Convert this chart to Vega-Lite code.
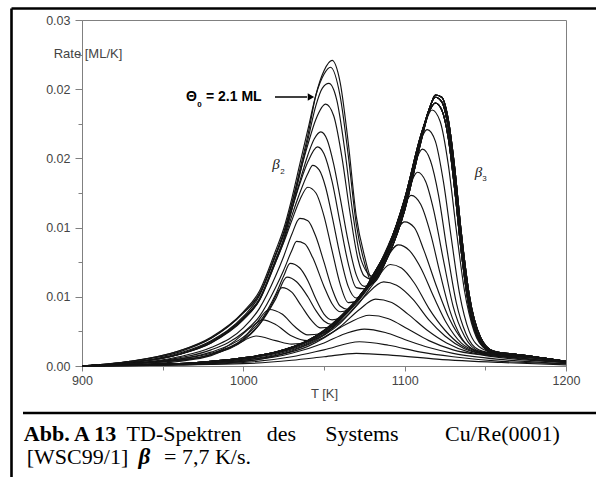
{
"$schema": "https://vega.github.io/schema/vega-lite/v6.json",
"width": 484, "height": 346,
"autosize": {"type": "none"},
"padding": {"left": 82, "top": 20, "right": 30, "bottom": 111},
"background": "white",
"config": {"font": "Liberation Sans", "view": {"stroke": "#808080", "strokeWidth": 1}},
"datasets": {
"curves": [
{"id":"z1","T":900,"rate":0},{"id":"z1","T":930,"rate":0.0003},{"id":"z1","T":960,"rate":0.0011},{"id":"z1","T":980,"rate":0.0022},{"id":"z1","T":1000,"rate":0.0043},{"id":"z1","T":1010,"rate":0.0061},{"id":"z1","T":1020,"rate":0.0096},{"id":"z1","T":1025,"rate":0.0114},{"id":"z1","T":1030,"rate":0.0140},{"id":"z1","T":1035,"rate":0.0170},{"id":"z1","T":1040,"rate":0.0200},{"id":"z1","T":1045,"rate":0.0235},{"id":"z1","T":1050,"rate":0.0256},{"id":"z1","T":1055,"rate":0.0265},{"id":"z1","T":1060,"rate":0.0246},{"id":"z1","T":1065,"rate":0.0194},{"id":"z1","T":1070,"rate":0.0130},{"id":"z1","T":1075,"rate":0.0096},
{"id":"z1","T":1080,"rate":0.0075},{"id":"z1","T":1090,"rate":0.0100},{"id":"z1","T":1100,"rate":0.0140},{"id":"z1","T":1110,"rate":0.0198},{"id":"z1","T":1115,"rate":0.0222},{"id":"z1","T":1119,"rate":0.0233},{"id":"z1","T":1123,"rate":0.0229},{"id":"z1","T":1127,"rate":0.0207},{"id":"z1","T":1131,"rate":0.0163},{"id":"z1","T":1135,"rate":0.0108},{"id":"z1","T":1140,"rate":0.0055},{"id":"z1","T":1147,"rate":0.0022},{"id":"z1","T":1155,"rate":0.0012},{"id":"z1","T":1170,"rate":0.0010},{"id":"z1","T":1200,"rate":0.0004},
{"id":"z2","T":900,"rate":0},{"id":"z2","T":930,"rate":0.0004},{"id":"z2","T":960,"rate":0.0013},{"id":"z2","T":980,"rate":0.0025},{"id":"z2","T":1000,"rate":0.0047},{"id":"z2","T":1010,"rate":0.0065},{"id":"z2","T":1020,"rate":0.0100},{"id":"z2","T":1025,"rate":0.0119},{"id":"z2","T":1030,"rate":0.0145},{"id":"z2","T":1035,"rate":0.0175},{"id":"z2","T":1040,"rate":0.0205},{"id":"z2","T":1045,"rate":0.0235},{"id":"z2","T":1050,"rate":0.0253},{"id":"z2","T":1054,"rate":0.0259},{"id":"z2","T":1060,"rate":0.0234},{"id":"z2","T":1065,"rate":0.0183},{"id":"z2","T":1070,"rate":0.0123},{"id":"z2","T":1075,"rate":0.0090},
{"id":"z2","T":1080,"rate":0.0072},{"id":"z2","T":1090,"rate":0.0096},{"id":"z2","T":1100,"rate":0.0135},{"id":"z2","T":1110,"rate":0.0194},{"id":"z2","T":1115,"rate":0.0221},{"id":"z2","T":1119,"rate":0.0235},{"id":"z2","T":1123,"rate":0.0233},{"id":"z2","T":1127,"rate":0.0214},{"id":"z2","T":1131,"rate":0.0172},{"id":"z2","T":1135,"rate":0.0117},{"id":"z2","T":1140,"rate":0.0062},{"id":"z2","T":1147,"rate":0.0025},{"id":"z2","T":1155,"rate":0.0013},{"id":"z2","T":1170,"rate":0.0010},{"id":"z2","T":1200,"rate":0.0004},
{"id":"z3","T":900,"rate":0},{"id":"z3","T":930,"rate":0.0003},{"id":"z3","T":960,"rate":0.0010},{"id":"z3","T":980,"rate":0.0020},{"id":"z3","T":1000,"rate":0.0040},{"id":"z3","T":1010,"rate":0.0057},{"id":"z3","T":1020,"rate":0.0092},{"id":"z3","T":1025,"rate":0.0110},{"id":"z3","T":1030,"rate":0.0136},{"id":"z3","T":1035,"rate":0.0166},{"id":"z3","T":1040,"rate":0.0196},{"id":"z3","T":1045,"rate":0.0226},{"id":"z3","T":1049,"rate":0.0241},{"id":"z3","T":1053,"rate":0.0245},{"id":"z3","T":1058,"rate":0.0230},{"id":"z3","T":1063,"rate":0.0186},{"id":"z3","T":1068,"rate":0.0131},{"id":"z3","T":1073,"rate":0.0092},
{"id":"z3","T":1080,"rate":0.0078},{"id":"z3","T":1090,"rate":0.0104},{"id":"z3","T":1100,"rate":0.0145},{"id":"z3","T":1110,"rate":0.0200},{"id":"z3","T":1115,"rate":0.0220},{"id":"z3","T":1119,"rate":0.0228},{"id":"z3","T":1123,"rate":0.0222},{"id":"z3","T":1127,"rate":0.0198},{"id":"z3","T":1131,"rate":0.0153},{"id":"z3","T":1135,"rate":0.0100},{"id":"z3","T":1140,"rate":0.0050},{"id":"z3","T":1147,"rate":0.0020},{"id":"z3","T":1155,"rate":0.0011},{"id":"z3","T":1170,"rate":0.0009},{"id":"z3","T":1200,"rate":0.0004},
{"id":"z4","T":900,"rate":0},{"id":"z4","T":930,"rate":0.0004},{"id":"z4","T":960,"rate":0.0013},{"id":"z4","T":980,"rate":0.0024},{"id":"z4","T":1000,"rate":0.0046},{"id":"z4","T":1010,"rate":0.0063},{"id":"z4","T":1020,"rate":0.0097},{"id":"z4","T":1025,"rate":0.0116},{"id":"z4","T":1030,"rate":0.0141},{"id":"z4","T":1035,"rate":0.0167},{"id":"z4","T":1040,"rate":0.0192},{"id":"z4","T":1045,"rate":0.0214},{"id":"z4","T":1051,"rate":0.0227},{"id":"z4","T":1056,"rate":0.0217},{"id":"z4","T":1061,"rate":0.0182},{"id":"z4","T":1066,"rate":0.0134},{"id":"z4","T":1071,"rate":0.0093},{"id":"z4","T":1075,"rate":0.0078},
{"id":"z4","T":1080,"rate":0.0075},{"id":"z4","T":1090,"rate":0.0100},{"id":"z4","T":1100,"rate":0.0140},{"id":"z4","T":1110,"rate":0.0198},{"id":"z4","T":1115,"rate":0.0222},{"id":"z4","T":1119,"rate":0.0233},{"id":"z4","T":1123,"rate":0.0229},{"id":"z4","T":1127,"rate":0.0207},{"id":"z4","T":1131,"rate":0.0163},{"id":"z4","T":1135,"rate":0.0108},{"id":"z4","T":1140,"rate":0.0055},{"id":"z4","T":1147,"rate":0.0022},{"id":"z4","T":1155,"rate":0.0012},{"id":"z4","T":1170,"rate":0.0010},{"id":"z4","T":1200,"rate":0.0004},
{"id":"z5","T":900,"rate":0},{"id":"z5","T":930,"rate":0.0003},{"id":"z5","T":960,"rate":0.0010},{"id":"z5","T":980,"rate":0.0021},{"id":"z5","T":1000,"rate":0.0041},{"id":"z5","T":1010,"rate":0.0058},{"id":"z5","T":1020,"rate":0.0092},{"id":"z5","T":1025,"rate":0.0110},{"id":"z5","T":1030,"rate":0.0135},{"id":"z5","T":1035,"rate":0.0160},{"id":"z5","T":1040,"rate":0.0183},{"id":"z5","T":1044,"rate":0.0197},{"id":"z5","T":1048,"rate":0.0203},{"id":"z5","T":1052,"rate":0.0196},{"id":"z5","T":1056,"rate":0.0175},{"id":"z5","T":1060,"rate":0.0146},{"id":"z5","T":1065,"rate":0.0108},{"id":"z5","T":1070,"rate":0.0079},{"id":"z5","T":1075,"rate":0.0069},
{"id":"z5","T":1080,"rate":0.0072},{"id":"z5","T":1090,"rate":0.0096},{"id":"z5","T":1100,"rate":0.0135},{"id":"z5","T":1110,"rate":0.0194},{"id":"z5","T":1115,"rate":0.0221},{"id":"z5","T":1119,"rate":0.0235},{"id":"z5","T":1123,"rate":0.0233},{"id":"z5","T":1127,"rate":0.0214},{"id":"z5","T":1131,"rate":0.0172},{"id":"z5","T":1135,"rate":0.0117},{"id":"z5","T":1140,"rate":0.0062},{"id":"z5","T":1147,"rate":0.0025},{"id":"z5","T":1155,"rate":0.0013},{"id":"z5","T":1170,"rate":0.0010},{"id":"z5","T":1200,"rate":0.0004},
{"id":"z6","T":900,"rate":0},{"id":"z6","T":930,"rate":0.0004},{"id":"z6","T":960,"rate":0.0012},{"id":"z6","T":980,"rate":0.0024},{"id":"z6","T":1000,"rate":0.0046},{"id":"z6","T":1010,"rate":0.0062},{"id":"z6","T":1020,"rate":0.0096},{"id":"z6","T":1025,"rate":0.0114},{"id":"z6","T":1030,"rate":0.0136},{"id":"z6","T":1035,"rate":0.0158},{"id":"z6","T":1040,"rate":0.0177},{"id":"z6","T":1046,"rate":0.0190},{"id":"z6","T":1050,"rate":0.0184},{"id":"z6","T":1055,"rate":0.0160},{"id":"z6","T":1060,"rate":0.0124},{"id":"z6","T":1065,"rate":0.0089},{"id":"z6","T":1070,"rate":0.0068},{"id":"z6","T":1075,"rate":0.0067},
{"id":"z6","T":1080,"rate":0.0078},{"id":"z6","T":1090,"rate":0.0104},{"id":"z6","T":1100,"rate":0.0145},{"id":"z6","T":1110,"rate":0.0200},{"id":"z6","T":1115,"rate":0.0220},{"id":"z6","T":1119,"rate":0.0228},{"id":"z6","T":1123,"rate":0.0222},{"id":"z6","T":1127,"rate":0.0198},{"id":"z6","T":1131,"rate":0.0153},{"id":"z6","T":1135,"rate":0.0100},{"id":"z6","T":1140,"rate":0.0050},{"id":"z6","T":1147,"rate":0.0020},{"id":"z6","T":1155,"rate":0.0011},{"id":"z6","T":1170,"rate":0.0009},{"id":"z6","T":1200,"rate":0.0004},
{"id":"z7","T":900,"rate":0},{"id":"z7","T":930,"rate":0.0003},{"id":"z7","T":960,"rate":0.0010},{"id":"z7","T":980,"rate":0.0020},{"id":"z7","T":1000,"rate":0.0041},{"id":"z7","T":1010,"rate":0.0057},{"id":"z7","T":1020,"rate":0.0090},{"id":"z7","T":1025,"rate":0.0108},{"id":"z7","T":1030,"rate":0.0130},{"id":"z7","T":1035,"rate":0.0150},{"id":"z7","T":1040,"rate":0.0167},{"id":"z7","T":1043,"rate":0.0174},{"id":"z7","T":1047,"rate":0.0170},{"id":"z7","T":1051,"rate":0.0155},{"id":"z7","T":1055,"rate":0.0130},{"id":"z7","T":1060,"rate":0.0096},{"id":"z7","T":1065,"rate":0.0069},{"id":"z7","T":1070,"rate":0.0059},{"id":"z7","T":1075,"rate":0.0065},
{"id":"z7","T":1080,"rate":0.0075},{"id":"z7","T":1090,"rate":0.0100},{"id":"z7","T":1100,"rate":0.0140},{"id":"z7","T":1110,"rate":0.0198},{"id":"z7","T":1115,"rate":0.0222},{"id":"z7","T":1119,"rate":0.0233},{"id":"z7","T":1123,"rate":0.0229},{"id":"z7","T":1127,"rate":0.0207},{"id":"z7","T":1131,"rate":0.0163},{"id":"z7","T":1135,"rate":0.0108},{"id":"z7","T":1140,"rate":0.0055},{"id":"z7","T":1147,"rate":0.0022},{"id":"z7","T":1155,"rate":0.0012},{"id":"z7","T":1170,"rate":0.0010},{"id":"z7","T":1200,"rate":0.0004},
{"id":"z8","T":900,"rate":0},{"id":"z8","T":930,"rate":0.0003},{"id":"z8","T":960,"rate":0.0010},{"id":"z8","T":980,"rate":0.0021},{"id":"z8","T":1000,"rate":0.0042},{"id":"z8","T":1010,"rate":0.0058},{"id":"z8","T":1020,"rate":0.0090},{"id":"z8","T":1025,"rate":0.0107},{"id":"z8","T":1030,"rate":0.0126},{"id":"z8","T":1035,"rate":0.0144},{"id":"z8","T":1040,"rate":0.0155},{"id":"z8","T":1045,"rate":0.0150},{"id":"z8","T":1050,"rate":0.0130},{"id":"z8","T":1055,"rate":0.0100},{"id":"z8","T":1060,"rate":0.0071},{"id":"z8","T":1065,"rate":0.0055},{"id":"z8","T":1070,"rate":0.0056},{"id":"z8","T":1075,"rate":0.0064},
{"id":"z8","T":1080,"rate":0.0072},{"id":"z8","T":1090,"rate":0.0096},{"id":"z8","T":1100,"rate":0.0135},{"id":"z8","T":1110,"rate":0.0194},{"id":"z8","T":1115,"rate":0.0221},{"id":"z8","T":1119,"rate":0.0235},{"id":"z8","T":1123,"rate":0.0233},{"id":"z8","T":1127,"rate":0.0214},{"id":"z8","T":1131,"rate":0.0172},{"id":"z8","T":1135,"rate":0.0117},{"id":"z8","T":1140,"rate":0.0062},{"id":"z8","T":1147,"rate":0.0025},{"id":"z8","T":1155,"rate":0.0013},{"id":"z8","T":1170,"rate":0.0010},{"id":"z8","T":1200,"rate":0.0004},
{"id":"h1","T":900,"rate":0},{"id":"h1","T":930,"rate":0.0002},{"id":"h1","T":960,"rate":0.0008},{"id":"h1","T":980,"rate":0.0016},{"id":"h1","T":1000,"rate":0.0033},{"id":"h1","T":1010,"rate":0.0050},{"id":"h1","T":1020,"rate":0.0078},{"id":"h1","T":1025,"rate":0.0095},{"id":"h1","T":1030,"rate":0.0114},{"id":"h1","T":1035,"rate":0.0128},{"id":"h1","T":1040,"rate":0.0126},{"id":"h1","T":1045,"rate":0.0112},{"id":"h1","T":1050,"rate":0.0090},{"id":"h1","T":1055,"rate":0.0067},{"id":"h1","T":1060,"rate":0.0052},{"id":"h1","T":1065,"rate":0.0049},{"id":"h1","T":1070,"rate":0.0056},{"id":"h1","T":1075,"rate":0.0066},
{"id":"h1","T":1080,"rate":0.0078},{"id":"h1","T":1090,"rate":0.0104},{"id":"h1","T":1100,"rate":0.0145},{"id":"h1","T":1110,"rate":0.0200},{"id":"h1","T":1115,"rate":0.0220},{"id":"h1","T":1119,"rate":0.0228},{"id":"h1","T":1123,"rate":0.0222},{"id":"h1","T":1127,"rate":0.0198},{"id":"h1","T":1131,"rate":0.0153},{"id":"h1","T":1135,"rate":0.0100},{"id":"h1","T":1140,"rate":0.0050},{"id":"h1","T":1147,"rate":0.0020},{"id":"h1","T":1155,"rate":0.0011},{"id":"h1","T":1170,"rate":0.0009},{"id":"h1","T":1200,"rate":0.0004},
{"id":"h2","T":900,"rate":0},{"id":"h2","T":930,"rate":0.0002},{"id":"h2","T":960,"rate":0.0007},{"id":"h2","T":980,"rate":0.0014},{"id":"h2","T":1000,"rate":0.0029},{"id":"h2","T":1010,"rate":0.0043},{"id":"h2","T":1020,"rate":0.0068},{"id":"h2","T":1025,"rate":0.0083},{"id":"h2","T":1030,"rate":0.0100},{"id":"h2","T":1033,"rate":0.0108},{"id":"h2","T":1038,"rate":0.0106},{"id":"h2","T":1043,"rate":0.0094},{"id":"h2","T":1050,"rate":0.0069},{"id":"h2","T":1055,"rate":0.0054},{"id":"h2","T":1060,"rate":0.0047},{"id":"h2","T":1065,"rate":0.0049},{"id":"h2","T":1070,"rate":0.0057},{"id":"h2","T":1075,"rate":0.0066},
{"id":"h2","T":1080,"rate":0.0075},{"id":"h2","T":1090,"rate":0.0100},{"id":"h2","T":1100,"rate":0.0140},{"id":"h2","T":1110,"rate":0.0198},{"id":"h2","T":1115,"rate":0.0222},{"id":"h2","T":1119,"rate":0.0233},{"id":"h2","T":1123,"rate":0.0229},{"id":"h2","T":1127,"rate":0.0207},{"id":"h2","T":1131,"rate":0.0163},{"id":"h2","T":1135,"rate":0.0108},{"id":"h2","T":1140,"rate":0.0055},{"id":"h2","T":1147,"rate":0.0022},{"id":"h2","T":1155,"rate":0.0012},{"id":"h2","T":1170,"rate":0.0010},{"id":"h2","T":1200,"rate":0.0004},
{"id":"h3","T":900,"rate":0},{"id":"h3","T":930,"rate":0.0002},{"id":"h3","T":960,"rate":0.0006},{"id":"h3","T":980,"rate":0.0012},{"id":"h3","T":1000,"rate":0.0025},{"id":"h3","T":1010,"rate":0.0038},{"id":"h3","T":1020,"rate":0.0062},{"id":"h3","T":1025,"rate":0.0078},{"id":"h3","T":1029,"rate":0.0089},{"id":"h3","T":1035,"rate":0.0085},{"id":"h3","T":1040,"rate":0.0074},{"id":"h3","T":1045,"rate":0.0058},{"id":"h3","T":1050,"rate":0.0045},{"id":"h3","T":1055,"rate":0.0040},{"id":"h3","T":1060,"rate":0.0042},{"id":"h3","T":1065,"rate":0.0049},{"id":"h3","T":1070,"rate":0.0057},{"id":"h3","T":1075,"rate":0.0066},
{"id":"h3","T":1080,"rate":0.0072},{"id":"h3","T":1090,"rate":0.0096},{"id":"h3","T":1100,"rate":0.0135},{"id":"h3","T":1110,"rate":0.0194},{"id":"h3","T":1115,"rate":0.0221},{"id":"h3","T":1119,"rate":0.0235},{"id":"h3","T":1123,"rate":0.0233},{"id":"h3","T":1127,"rate":0.0214},{"id":"h3","T":1131,"rate":0.0172},{"id":"h3","T":1135,"rate":0.0117},{"id":"h3","T":1140,"rate":0.0062},{"id":"h3","T":1147,"rate":0.0025},{"id":"h3","T":1155,"rate":0.0013},{"id":"h3","T":1170,"rate":0.0010},{"id":"h3","T":1200,"rate":0.0004},
{"id":"h4","T":900,"rate":0},{"id":"h4","T":930,"rate":0.0002},{"id":"h4","T":960,"rate":0.0006},{"id":"h4","T":980,"rate":0.0011},{"id":"h4","T":1000,"rate":0.0023},{"id":"h4","T":1010,"rate":0.0036},{"id":"h4","T":1020,"rate":0.0058},{"id":"h4","T":1027,"rate":0.0077},{"id":"h4","T":1033,"rate":0.0073},{"id":"h4","T":1040,"rate":0.0060},{"id":"h4","T":1045,"rate":0.0048},{"id":"h4","T":1050,"rate":0.0039},{"id":"h4","T":1055,"rate":0.0036},{"id":"h4","T":1060,"rate":0.0041},{"id":"h4","T":1065,"rate":0.0048},{"id":"h4","T":1070,"rate":0.0057},{"id":"h4","T":1075,"rate":0.0066},
{"id":"h4","T":1080,"rate":0.0078},{"id":"h4","T":1090,"rate":0.0104},{"id":"h4","T":1100,"rate":0.0145},{"id":"h4","T":1110,"rate":0.0200},{"id":"h4","T":1115,"rate":0.0220},{"id":"h4","T":1119,"rate":0.0228},{"id":"h4","T":1123,"rate":0.0222},{"id":"h4","T":1127,"rate":0.0198},{"id":"h4","T":1131,"rate":0.0153},{"id":"h4","T":1135,"rate":0.0100},{"id":"h4","T":1140,"rate":0.0050},{"id":"h4","T":1147,"rate":0.0020},{"id":"h4","T":1155,"rate":0.0011},{"id":"h4","T":1170,"rate":0.0009},{"id":"h4","T":1200,"rate":0.0004},
{"id":"h5","T":900,"rate":0},{"id":"h5","T":930,"rate":0.0002},{"id":"h5","T":960,"rate":0.0005},{"id":"h5","T":980,"rate":0.0010},{"id":"h5","T":1000,"rate":0.0022},{"id":"h5","T":1010,"rate":0.0036},{"id":"h5","T":1017,"rate":0.0052},{"id":"h5","T":1024,"rate":0.0068},{"id":"h5","T":1030,"rate":0.0064},{"id":"h5","T":1036,"rate":0.0052},{"id":"h5","T":1042,"rate":0.0040},{"id":"h5","T":1048,"rate":0.0033},{"id":"h5","T":1055,"rate":0.0034},{"id":"h5","T":1060,"rate":0.0040},{"id":"h5","T":1065,"rate":0.0048},{"id":"h5","T":1070,"rate":0.0057},{"id":"h5","T":1075,"rate":0.0066},
{"id":"h5","T":1080,"rate":0.0075},{"id":"h5","T":1090,"rate":0.0100},{"id":"h5","T":1100,"rate":0.0140},{"id":"h5","T":1110,"rate":0.0198},{"id":"h5","T":1115,"rate":0.0222},{"id":"h5","T":1119,"rate":0.0233},{"id":"h5","T":1123,"rate":0.0229},{"id":"h5","T":1127,"rate":0.0207},{"id":"h5","T":1131,"rate":0.0163},{"id":"h5","T":1135,"rate":0.0108},{"id":"h5","T":1140,"rate":0.0055},{"id":"h5","T":1147,"rate":0.0022},{"id":"h5","T":1155,"rate":0.0012},{"id":"h5","T":1170,"rate":0.0010},{"id":"h5","T":1200,"rate":0.0004},
{"id":"h6","T":900,"rate":0},{"id":"h6","T":930,"rate":0.0002},{"id":"h6","T":960,"rate":0.0005},{"id":"h6","T":980,"rate":0.0010},{"id":"h6","T":1000,"rate":0.0024},{"id":"h6","T":1008,"rate":0.0037},{"id":"h6","T":1016,"rate":0.0049},{"id":"h6","T":1024,"rate":0.0045},{"id":"h6","T":1032,"rate":0.0034},{"id":"h6","T":1040,"rate":0.0027},{"id":"h6","T":1048,"rate":0.0028},{"id":"h6","T":1055,"rate":0.0033},{"id":"h6","T":1062,"rate":0.0043},{"id":"h6","T":1070,"rate":0.0057},{"id":"h6","T":1075,"rate":0.0066},
{"id":"h6","T":1080,"rate":0.0072},{"id":"h6","T":1090,"rate":0.0096},{"id":"h6","T":1100,"rate":0.0135},{"id":"h6","T":1110,"rate":0.0194},{"id":"h6","T":1115,"rate":0.0221},{"id":"h6","T":1119,"rate":0.0235},{"id":"h6","T":1123,"rate":0.0233},{"id":"h6","T":1127,"rate":0.0214},{"id":"h6","T":1131,"rate":0.0172},{"id":"h6","T":1135,"rate":0.0117},{"id":"h6","T":1140,"rate":0.0062},{"id":"h6","T":1147,"rate":0.0025},{"id":"h6","T":1155,"rate":0.0013},{"id":"h6","T":1170,"rate":0.0010},{"id":"h6","T":1200,"rate":0.0004},
{"id":"h7","T":900,"rate":0},{"id":"h7","T":930,"rate":0.0002},{"id":"h7","T":960,"rate":0.0005},{"id":"h7","T":980,"rate":0.0010},{"id":"h7","T":995,"rate":0.0022},{"id":"h7","T":1005,"rate":0.0034},{"id":"h7","T":1012,"rate":0.0040},{"id":"h7","T":1020,"rate":0.0036},{"id":"h7","T":1030,"rate":0.0026},{"id":"h7","T":1040,"rate":0.0022},{"id":"h7","T":1050,"rate":0.0027},{"id":"h7","T":1060,"rate":0.0040},{"id":"h7","T":1070,"rate":0.0056},{"id":"h7","T":1075,"rate":0.0065},
{"id":"h7","T":1080,"rate":0.0078},{"id":"h7","T":1090,"rate":0.0104},{"id":"h7","T":1100,"rate":0.0145},{"id":"h7","T":1110,"rate":0.0200},{"id":"h7","T":1115,"rate":0.0220},{"id":"h7","T":1119,"rate":0.0228},{"id":"h7","T":1123,"rate":0.0222},{"id":"h7","T":1127,"rate":0.0198},{"id":"h7","T":1131,"rate":0.0153},{"id":"h7","T":1135,"rate":0.0100},{"id":"h7","T":1140,"rate":0.0050},{"id":"h7","T":1147,"rate":0.0020},{"id":"h7","T":1155,"rate":0.0011},{"id":"h7","T":1170,"rate":0.0009},{"id":"h7","T":1200,"rate":0.0004},
{"id":"h8","T":900,"rate":0},{"id":"h8","T":930,"rate":0.0001},{"id":"h8","T":960,"rate":0.0004},{"id":"h8","T":980,"rate":0.0009},{"id":"h8","T":995,"rate":0.0018},{"id":"h8","T":1008,"rate":0.0026},{"id":"h8","T":1020,"rate":0.0022},{"id":"h8","T":1030,"rate":0.0019},{"id":"h8","T":1040,"rate":0.0021},{"id":"h8","T":1050,"rate":0.0029},{"id":"h8","T":1060,"rate":0.0041},{"id":"h8","T":1070,"rate":0.0057},{"id":"h8","T":1075,"rate":0.0066},
{"id":"h8","T":1080,"rate":0.0075},{"id":"h8","T":1090,"rate":0.0100},{"id":"h8","T":1100,"rate":0.0140},{"id":"h8","T":1110,"rate":0.0198},{"id":"h8","T":1115,"rate":0.0222},{"id":"h8","T":1119,"rate":0.0233},{"id":"h8","T":1123,"rate":0.0229},{"id":"h8","T":1127,"rate":0.0207},{"id":"h8","T":1131,"rate":0.0163},{"id":"h8","T":1135,"rate":0.0108},{"id":"h8","T":1140,"rate":0.0055},{"id":"h8","T":1147,"rate":0.0022},{"id":"h8","T":1155,"rate":0.0012},{"id":"h8","T":1170,"rate":0.0010},{"id":"h8","T":1200,"rate":0.0004},
{"id":"c1","T":900,"rate":0},{"id":"c1","T":930,"rate":0.0001},{"id":"c1","T":960,"rate":0.0002},{"id":"c1","T":980,"rate":0.0004},{"id":"c1","T":1000,"rate":0.0007},{"id":"c1","T":1020,"rate":0.0012},{"id":"c1","T":1040,"rate":0.0022},{"id":"c1","T":1060,"rate":0.0042},{"id":"c1","T":1080,"rate":0.0074},{"id":"c1","T":1090,"rate":0.0099},{"id":"c1","T":1100,"rate":0.0139},{"id":"c1","T":1110,"rate":0.0197},{"id":"c1","T":1117,"rate":0.0222},{"id":"c1","T":1122,"rate":0.0212},{"id":"c1","T":1127,"rate":0.0175},{"id":"c1","T":1132,"rate":0.0118},{"id":"c1","T":1137,"rate":0.0066},{"id":"c1","T":1143,"rate":0.0030},{"id":"c1","T":1150,"rate":0.0015},{"id":"c1","T":1160,"rate":0.0011},{"id":"c1","T":1180,"rate":0.0008},{"id":"c1","T":1200,"rate":0.0004},
{"id":"c2","T":900,"rate":0},{"id":"c2","T":930,"rate":0.0001},{"id":"c2","T":960,"rate":0.0002},{"id":"c2","T":980,"rate":0.0004},{"id":"c2","T":1000,"rate":0.0007},{"id":"c2","T":1020,"rate":0.0012},{"id":"c2","T":1040,"rate":0.0022},{"id":"c2","T":1060,"rate":0.0042},{"id":"c2","T":1080,"rate":0.0075},{"id":"c2","T":1090,"rate":0.0101},{"id":"c2","T":1100,"rate":0.0142},{"id":"c2","T":1108,"rate":0.0188},{"id":"c2","T":1114,"rate":0.0205},{"id":"c2","T":1119,"rate":0.0195},{"id":"c2","T":1124,"rate":0.0160},{"id":"c2","T":1129,"rate":0.0110},{"id":"c2","T":1134,"rate":0.0063},{"id":"c2","T":1140,"rate":0.0030},{"id":"c2","T":1148,"rate":0.0015},{"id":"c2","T":1160,"rate":0.0010},{"id":"c2","T":1180,"rate":0.0008},{"id":"c2","T":1200,"rate":0.0004},
{"id":"c3","T":900,"rate":0},{"id":"c3","T":930,"rate":0.0001},{"id":"c3","T":960,"rate":0.0002},{"id":"c3","T":980,"rate":0.0004},{"id":"c3","T":1000,"rate":0.0007},{"id":"c3","T":1020,"rate":0.0012},{"id":"c3","T":1040,"rate":0.0022},{"id":"c3","T":1060,"rate":0.0043},{"id":"c3","T":1080,"rate":0.0076},{"id":"c3","T":1090,"rate":0.0102},{"id":"c3","T":1100,"rate":0.0143},{"id":"c3","T":1106,"rate":0.0174},{"id":"c3","T":1111,"rate":0.0188},{"id":"c3","T":1116,"rate":0.0178},{"id":"c3","T":1121,"rate":0.0148},{"id":"c3","T":1126,"rate":0.0103},{"id":"c3","T":1132,"rate":0.0055},{"id":"c3","T":1138,"rate":0.0028},{"id":"c3","T":1146,"rate":0.0014},{"id":"c3","T":1160,"rate":0.0010},{"id":"c3","T":1180,"rate":0.0008},{"id":"c3","T":1200,"rate":0.0004},
{"id":"c4","T":900,"rate":0},{"id":"c4","T":930,"rate":0.0001},{"id":"c4","T":960,"rate":0.0002},{"id":"c4","T":980,"rate":0.0004},{"id":"c4","T":1000,"rate":0.0007},{"id":"c4","T":1020,"rate":0.0012},{"id":"c4","T":1040,"rate":0.0022},{"id":"c4","T":1060,"rate":0.0042},{"id":"c4","T":1080,"rate":0.0076},{"id":"c4","T":1090,"rate":0.0103},{"id":"c4","T":1100,"rate":0.0142},{"id":"c4","T":1108,"rate":0.0168},{"id":"c4","T":1113,"rate":0.0160},{"id":"c4","T":1118,"rate":0.0135},{"id":"c4","T":1124,"rate":0.0092},{"id":"c4","T":1130,"rate":0.0052},{"id":"c4","T":1137,"rate":0.0026},{"id":"c4","T":1146,"rate":0.0013},{"id":"c4","T":1160,"rate":0.0010},{"id":"c4","T":1180,"rate":0.0007},{"id":"c4","T":1200,"rate":0.0003},
{"id":"c5","T":900,"rate":0},{"id":"c5","T":930,"rate":0.0001},{"id":"c5","T":960,"rate":0.0002},{"id":"c5","T":980,"rate":0.0004},{"id":"c5","T":1000,"rate":0.0007},{"id":"c5","T":1020,"rate":0.0012},{"id":"c5","T":1040,"rate":0.0022},{"id":"c5","T":1060,"rate":0.0042},{"id":"c5","T":1080,"rate":0.0076},{"id":"c5","T":1095,"rate":0.0121},{"id":"c5","T":1104,"rate":0.0148},{"id":"c5","T":1110,"rate":0.0140},{"id":"c5","T":1116,"rate":0.0115},{"id":"c5","T":1122,"rate":0.0080},{"id":"c5","T":1128,"rate":0.0048},{"id":"c5","T":1135,"rate":0.0025},{"id":"c5","T":1145,"rate":0.0013},{"id":"c5","T":1160,"rate":0.0010},{"id":"c5","T":1180,"rate":0.0007},{"id":"c5","T":1200,"rate":0.0003},
{"id":"c6","T":900,"rate":0},{"id":"c6","T":930,"rate":0.0001},{"id":"c6","T":960,"rate":0.0002},{"id":"c6","T":980,"rate":0.0004},{"id":"c6","T":1000,"rate":0.0007},{"id":"c6","T":1020,"rate":0.0012},{"id":"c6","T":1040,"rate":0.0022},{"id":"c6","T":1060,"rate":0.0042},{"id":"c6","T":1080,"rate":0.0075},{"id":"c6","T":1090,"rate":0.0102},{"id":"c6","T":1100,"rate":0.0125},{"id":"c6","T":1106,"rate":0.0120},{"id":"c6","T":1112,"rate":0.0100},{"id":"c6","T":1120,"rate":0.0068},{"id":"c6","T":1128,"rate":0.0040},{"id":"c6","T":1136,"rate":0.0022},{"id":"c6","T":1146,"rate":0.0012},{"id":"c6","T":1160,"rate":0.0009},{"id":"c6","T":1180,"rate":0.0007},{"id":"c6","T":1200,"rate":0.0003},
{"id":"c7","T":900,"rate":0},{"id":"c7","T":930,"rate":0.0001},{"id":"c7","T":960,"rate":0.0002},{"id":"c7","T":980,"rate":0.0004},{"id":"c7","T":1000,"rate":0.0006},{"id":"c7","T":1020,"rate":0.0011},{"id":"c7","T":1040,"rate":0.0021},{"id":"c7","T":1060,"rate":0.0040},{"id":"c7","T":1075,"rate":0.0063},{"id":"c7","T":1085,"rate":0.0084},{"id":"c7","T":1096,"rate":0.0105},{"id":"c7","T":1103,"rate":0.0100},{"id":"c7","T":1110,"rate":0.0085},{"id":"c7","T":1118,"rate":0.0060},{"id":"c7","T":1126,"rate":0.0037},{"id":"c7","T":1135,"rate":0.0020},{"id":"c7","T":1146,"rate":0.0012},{"id":"c7","T":1160,"rate":0.0009},{"id":"c7","T":1180,"rate":0.0007},{"id":"c7","T":1200,"rate":0.0003},
{"id":"c8","T":900,"rate":0},{"id":"c8","T":930,"rate":0.0001},{"id":"c8","T":960,"rate":0.0002},{"id":"c8","T":980,"rate":0.0003},{"id":"c8","T":1000,"rate":0.0006},{"id":"c8","T":1020,"rate":0.0011},{"id":"c8","T":1040,"rate":0.0020},{"id":"c8","T":1060,"rate":0.0038},{"id":"c8","T":1072,"rate":0.0055},{"id":"c8","T":1081,"rate":0.0072},{"id":"c8","T":1091,"rate":0.0088},{"id":"c8","T":1098,"rate":0.0085},{"id":"c8","T":1106,"rate":0.0072},{"id":"c8","T":1115,"rate":0.0050},{"id":"c8","T":1125,"rate":0.0031},{"id":"c8","T":1135,"rate":0.0018},{"id":"c8","T":1147,"rate":0.0011},{"id":"c8","T":1165,"rate":0.0008},{"id":"c8","T":1200,"rate":0.0003},
{"id":"c9","T":900,"rate":0},{"id":"c9","T":930,"rate":0.0001},{"id":"c9","T":960,"rate":0.0002},{"id":"c9","T":980,"rate":0.0003},{"id":"c9","T":1000,"rate":0.0005},{"id":"c9","T":1020,"rate":0.0010},{"id":"c9","T":1040,"rate":0.0019},{"id":"c9","T":1060,"rate":0.0037},{"id":"c9","T":1075,"rate":0.0060},{"id":"c9","T":1087,"rate":0.0073},{"id":"c9","T":1095,"rate":0.0070},{"id":"c9","T":1105,"rate":0.0058},{"id":"c9","T":1115,"rate":0.0040},{"id":"c9","T":1125,"rate":0.0026},{"id":"c9","T":1137,"rate":0.0015},{"id":"c9","T":1150,"rate":0.0010},{"id":"c9","T":1170,"rate":0.0007},{"id":"c9","T":1200,"rate":0.0003},
{"id":"c10","T":900,"rate":0},{"id":"c10","T":940,"rate":0.0001},{"id":"c10","T":970,"rate":0.0002},{"id":"c10","T":1000,"rate":0.0005},{"id":"c10","T":1020,"rate":0.0009},{"id":"c10","T":1040,"rate":0.0017},{"id":"c10","T":1060,"rate":0.0034},{"id":"c10","T":1072,"rate":0.0049},{"id":"c10","T":1082,"rate":0.0058},{"id":"c10","T":1092,"rate":0.0055},{"id":"c10","T":1102,"rate":0.0045},{"id":"c10","T":1114,"rate":0.0031},{"id":"c10","T":1126,"rate":0.0020},{"id":"c10","T":1140,"rate":0.0012},{"id":"c10","T":1160,"rate":0.0008},{"id":"c10","T":1200,"rate":0.0003},
{"id":"c11","T":900,"rate":0},{"id":"c11","T":950,"rate":0.0001},{"id":"c11","T":980,"rate":0.0003},{"id":"c11","T":1000,"rate":0.0004},{"id":"c11","T":1030,"rate":0.0013},{"id":"c11","T":1050,"rate":0.0025},{"id":"c11","T":1065,"rate":0.0037},{"id":"c11","T":1078,"rate":0.0044},{"id":"c11","T":1090,"rate":0.0041},{"id":"c11","T":1102,"rate":0.0032},{"id":"c11","T":1115,"rate":0.0022},{"id":"c11","T":1130,"rate":0.0014},{"id":"c11","T":1150,"rate":0.0009},{"id":"c11","T":1200,"rate":0.0003},
{"id":"c12","T":900,"rate":0},{"id":"c12","T":950,"rate":0.0001},{"id":"c12","T":980,"rate":0.0002},{"id":"c12","T":1000,"rate":0.0004},{"id":"c12","T":1030,"rate":0.0011},{"id":"c12","T":1050,"rate":0.0020},{"id":"c12","T":1063,"rate":0.0028},{"id":"c12","T":1075,"rate":0.0032},{"id":"c12","T":1088,"rate":0.0029},{"id":"c12","T":1100,"rate":0.0023},{"id":"c12","T":1115,"rate":0.0016},{"id":"c12","T":1130,"rate":0.0011},{"id":"c12","T":1150,"rate":0.0007},{"id":"c12","T":1200,"rate":0.0002},
{"id":"c13","T":900,"rate":0},{"id":"c13","T":960,"rate":0.0001},{"id":"c13","T":1000,"rate":0.0003},{"id":"c13","T":1030,"rate":0.0008},{"id":"c13","T":1050,"rate":0.0014},{"id":"c13","T":1072,"rate":0.0021},{"id":"c13","T":1090,"rate":0.0018},{"id":"c13","T":1110,"rate":0.0012},{"id":"c13","T":1130,"rate":0.0008},{"id":"c13","T":1160,"rate":0.0004},{"id":"c13","T":1200,"rate":0.0002},
{"id":"c14","T":900,"rate":0},{"id":"c14","T":960,"rate":0.0001},{"id":"c14","T":1000,"rate":0.0002},{"id":"c14","T":1030,"rate":0.0005},{"id":"c14","T":1050,"rate":0.0008},{"id":"c14","T":1070,"rate":0.0011},{"id":"c14","T":1095,"rate":0.0009},{"id":"c14","T":1120,"rate":0.0006},{"id":"c14","T":1160,"rate":0.0003},{"id":"c14","T":1200,"rate":0.0001}
]
},
"encoding": {
  "x": {"field": "T", "type": "quantitative",
    "scale": {"domain": [900, 1200], "nice": false, "zero": false},
    "axis": {"title": "T [K]", "values": [900, 950, 1000, 1050, 1100, 1150, 1200], "format": "d",
      "labelExpr": "datum.value % 100 == 0 ? datum.label : ''",
      "grid": false, "domainColor": "#808080", "tickColor": "#808080",
      "tickSize": {"condition": {"test": "datum.value % 100 == 0", "value": 5}, "value": 4},
      "labelFont": "Liberation Sans", "labelFontSize": 12.5, "labelColor": "#444444", "labelPadding": 3,
      "labelFlush": false, "labelOverlap": false,
      "titleFont": "Liberation Sans", "titleFontSize": 13, "titleFontWeight": "normal", "titleColor": "#444444", "titlePadding": 1}},
  "y": {"field": "rate", "type": "quantitative",
    "scale": {"domain": [0, 0.03], "nice": false, "zero": false},
    "axis": {"title": "Rate [ML/K]", "values": [0, 0.003, 0.006, 0.009, 0.012, 0.015, 0.018, 0.021, 0.024, 0.027, 0.03],
      "labelExpr": "round(datum.value * 1000 / 3) % 2 == 0 ? format(datum.value, '.2f') : ''",
      "grid": false, "domainColor": "#808080", "tickColor": "#808080",
      "tickSize": {"condition": {"test": "round(datum.value * 1000 / 3) % 2 == 0", "value": 7}, "value": 4},
      "labelFont": "Liberation Sans", "labelFontSize": 12.5, "labelColor": "#444444", "labelPadding": 5,
      "labelFlush": false, "labelOverlap": false,
      "titleFont": "Liberation Sans", "titleFontSize": 13, "titleFontWeight": "normal", "titleColor": "#444444",
      "titleAngle": 0, "titleX": 5.5, "titleY": 33, "titleAlign": "center", "titleBaseline": "middle"}}
},
"layer": [
  {"data": {"name": "curves"},
   "mark": {"type": "line", "interpolate": "monotone", "color": "#141414", "strokeWidth": 1.15},
   "encoding": {"detail": {"field": "id"}}},
  {"data": {"values": [
      {"T": 856.3, "T2": 1222, "rate": 0.030997, "rate2": 0.030997},
      {"T": 856.3, "T2": 856.3, "rate": 0.030997, "rate2": -0.0106},
      {"T": 863.43, "T2": 1222, "rate": -0.004075, "rate2": -0.004075}]},
   "mark": {"type": "rule", "color": "#000000", "strokeWidth": 2.6},
   "encoding": {"x2": {"field": "T2"}, "y2": {"field": "rate2"}}},
  {"data": {"values": [{"T": 1019.63, "T2": 1039.5, "rate": 0.023324}]},
   "mark": {"type": "rule", "color": "#000000", "strokeWidth": 1.5},
   "encoding": {"x2": {"field": "T2"}}},
  {"data": {"values": [{"T": 1041.9, "rate": 0.023324}]},
   "mark": {"type": "point", "shape": "triangle-right", "filled": true, "color": "#000000", "size": 55, "opacity": 1},
   "encoding": {}},
  {"data": {"values": [{"T": 967.87, "rate": 0.023324, "label": "Θ"}]},
   "mark": {"type": "text", "font": "Liberation Sans", "fontSize": 14, "fontWeight": "bold", "align": "center", "baseline": "middle", "color": "#000000"},
   "encoding": {"text": {"field": "label"}}},
  {"data": {"values": [{"T": 972.83, "rate": 0.02263, "label": "0"}]},
   "mark": {"type": "text", "font": "Liberation Sans", "fontSize": 8, "fontWeight": "bold", "align": "center", "baseline": "middle", "color": "#000000"},
   "encoding": {"text": {"field": "label"}}},
  {"data": {"values": [{"T": 976.86, "rate": 0.023324, "label": "= 2.1 ML"}]},
   "mark": {"type": "text", "font": "Liberation Sans", "fontSize": 14, "fontWeight": "bold", "align": "left", "baseline": "middle", "color": "#000000"},
   "encoding": {"text": {"field": "label"}}},
  {"data": {"values": [{"T": 1020.25, "rate": 0.017514, "label": "β"}, {"T": 1145.76, "rate": 0.016821, "label": "β"}]},
   "mark": {"type": "text", "font": "Liberation Serif", "fontSize": 15, "fontStyle": "italic", "align": "center", "baseline": "middle", "color": "#222222"},
   "encoding": {"text": {"field": "label"}}},
  {"data": {"values": [{"T": 1024.28, "rate": 0.016821, "label": "2"}, {"T": 1149.48, "rate": 0.016214, "label": "3"}]},
   "mark": {"type": "text", "font": "Liberation Sans", "fontSize": 8, "align": "center", "baseline": "middle", "color": "#222222"},
   "encoding": {"text": {"field": "label"}}},
  {"data": {"values": [{"T": 892.56, "rate": -0.0065029, "label": "Abb. A 13"}]},
   "mark": {"type": "text", "font": "Liberation Serif", "fontSize": 22, "fontWeight": "bold", "align": "center", "baseline": "alphabetic", "color": "#000000"},
   "encoding": {"text": {"field": "label"}}},
  {"data": {"values": [
      {"T": 963.22, "rate": -0.0065029, "label": "TD-Spektren"},
      {"T": 1023.66, "rate": -0.0065029, "label": "des"},
      {"T": 1073.55, "rate": -0.0065029, "label": "Systems"},
      {"T": 1160.64, "rate": -0.0065029, "label": "Cu/Re(0001)"},
      {"T": 897.21, "rate": -0.0084971, "label": "[WSC99/1]"},
      {"T": 977.79, "rate": -0.0084971, "label": "= 7,7 K/s."}]},
   "mark": {"type": "text", "font": "Liberation Serif", "fontSize": 22, "align": "center", "baseline": "alphabetic", "color": "#000000"},
   "encoding": {"text": {"field": "label"}}},
  {"data": {"values": [{"T": 938.74, "rate": -0.0084971, "label": "β"}]},
   "mark": {"type": "text", "font": "Liberation Serif", "fontSize": 23, "fontStyle": "italic", "fontWeight": "bold", "align": "center", "baseline": "alphabetic", "color": "#000000"},
   "encoding": {"text": {"field": "label"}}}
]
}
